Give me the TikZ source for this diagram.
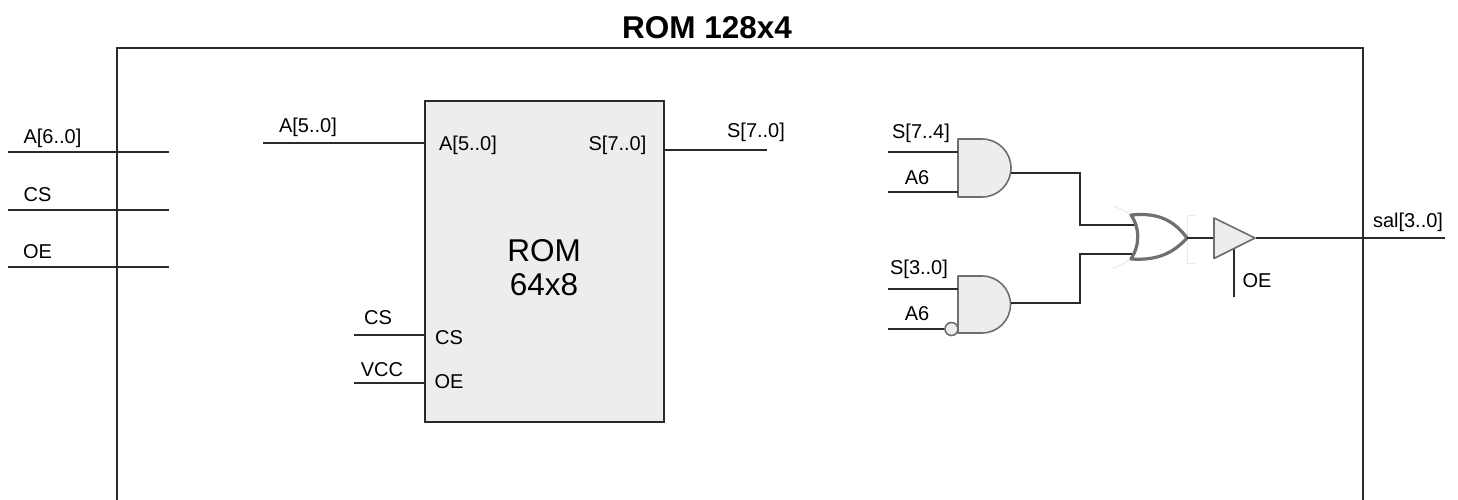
\documentclass[tikz,border=0pt]{standalone}
\usepackage{fontspec}
\setmainfont{Liberation Sans}
\definecolor{gatefill}{HTML}{EDEDED}
\definecolor{wirecol}{HTML}{2A2A2A}
\definecolor{gateline}{HTML}{6E6E6E}
\definecolor{orline}{HTML}{707070}
\definecolor{faintline}{HTML}{EAEAEA}
\tikzset{
  wire/.style={draw=wirecol,line width=1.8pt},
  lab/.style={inner sep=0pt,text=black,font=\fontsize{20}{22}\selectfont},
  biglab/.style={inner sep=0pt,text=black,align=center,font=\fontsize{31.5}{34}\selectfont},
  titlelab/.style={inner sep=0pt,text=black,font=\fontsize{31.5}{33}\selectfont\bfseries},
  gate/.style={draw=gateline,fill=gatefill,line width=1.6pt,line join=round},
  orgate/.style={draw=orline,fill=white,line width=3.2pt,line join=round},
  faint/.style={draw=faintline,line width=1pt}
}
\begin{document}
\begin{tikzpicture}[x=1pt,y=-1pt]
\useasboundingbox[fill=white] (0,0) rectangle (1458,500);

% outer frame (runs off the bottom of the picture)
\coordinate (fbl) at (117,500);
\coordinate (ftl) at (117,48);
\coordinate (ftr) at (1363,48);
\coordinate (fbr) at (1363,500);
\draw[wire] (fbl) -- (ftl) -- (ftr) -- (fbr);
\node[titlelab] (title) at (707,27.5) {ROM 128x4};

% external inputs
\coordinate (ia1) at (8,152);   \coordinate (ia2) at (169,152);
\coordinate (ic1) at (8,210);   \coordinate (ic2) at (169,210);
\coordinate (io1) at (8,267); \coordinate (io2) at (169,267);
\draw[wire] (ia1) -- (ia2);
\draw[wire] (ic1) -- (ic2);
\draw[wire] (io1) -- (io2);
\node[lab] (la) at (52.5,138) {A[6..0]};
\node[lab] (lc) at (37.5,195) {CS};
\node[lab] (lo) at (37.5,251.5) {OE};

% ROM block
\node[draw=wirecol,fill=gatefill,line width=1.8pt,minimum width=239pt,minimum height=321pt,inner sep=0pt,outer sep=0pt] (rom) at (544.5,261.5) {};
\node[biglab] (romt) at (544,267.5) {ROM\\64x8};
\coordinate (ra) at (rom.west |- 0,143);
\coordinate (ra0) at (263,143);
\coordinate (rs) at (rom.east |- 0,150);
\coordinate (rs0) at (767,150);
\coordinate (rc) at (rom.west |- 0,335);
\coordinate (rc0) at (354,335);
\coordinate (rv) at (rom.west |- 0,383);
\coordinate (rv0) at (354,383);
\draw[wire] (ra0) -- (ra);
\draw[wire] (rs) -- (rs0);
\draw[wire] (rc0) -- (rc);
\draw[wire] (rv0) -- (rv);
\node[lab] at (308,127) {A[5..0]};
\node[lab] at (468,145) {A[5..0]};
\node[lab] at (617.5,145) {S[7..0]};
\node[lab] at (756,132.5) {S[7..0]};
\node[lab] at (378,317.5) {CS};
\node[lab] at (382,369.5) {VCC};
\node[lab] at (449,337.5) {CS};
\node[lab] at (449,381.5) {OE};

% AND gates
\draw[gate] (958,139) -- (982,139) arc[start angle=-90,end angle=90,radius=29] -- (958,197) -- cycle;
\draw[gate] (958,276) -- (982,276) arc[start angle=-90,end angle=90,radius=28.5] -- (958,333) -- cycle;
\coordinate (a1i1) at (958,152);  \coordinate (a1i1s) at (888,152);
\coordinate (a1i2) at (958,192);  \coordinate (a1i2s) at (888,192);
\coordinate (a2i1) at (958,289);  \coordinate (a2i1s) at (888,289);
\coordinate (a2i2) at (945,329);  \coordinate (a2i2s) at (888,329);
\coordinate (a1o) at (1011,173);
\coordinate (a2o) at (1011,303);
\draw[wire] (a1i1s) -- (a1i1);
\draw[wire] (a1i2s) -- (a1i2);
\draw[wire] (a2i1s) -- (a2i1);
\draw[wire] (a2i2s) -- (a2i2);
\node[circle,draw=gateline,fill=gatefill,line width=1.6pt,minimum size=13pt,inner sep=0pt] (bub) at (951.5,329) {};
\node[lab] at (921,133) {S[7..4]};
\node[lab] at (917,177.5) {A6};
\node[lab] at (919,269.5) {S[3..0]};
\node[lab] at (917,313.5) {A6};

% faint artefacts round the OR gate
\draw[faint] (1113,206) .. controls (1122,209) and (1127,212) .. (1131,216);
\draw[faint] (1113,268) .. controls (1122,265) and (1127,262) .. (1131,258);
\draw[faint] (1195,215) -- (1187,215) -- (1187,263) -- (1195,263);

% OR gate
\coordinate (oi1) at (1135,225);
\coordinate (oi2) at (1135,254);
\coordinate (oo) at (1187,238);
\coordinate (w1) at (1080,173);
\coordinate (w2) at (1080,225);
\coordinate (w3) at (1080,254);
\coordinate (w4) at (1080,303);
\draw[wire] (a1o) -- (w1) -- (w2) -- (oi1);
\draw[wire] (a2o) -- (w4) -- (w3) -- (oi2);
\draw[orgate] (1131,215) .. controls (1160,212) and (1175,222) .. (1187,238)
  .. controls (1175,251) and (1160,261) .. (1131,259)
  .. controls (1140,245) and (1140,228) .. (1131,215) -- cycle;

% buffer
\coordinate (bi) at (1214,238);
\coordinate (bo) at (1256,238);
\coordinate (be1) at (1234,248);
\coordinate (be2) at (1234,297);
\coordinate (sal) at (1445,238);
\draw[wire] (oo) -- (bi);
\draw[wire] (be1) -- (be2);
\draw[gate] (1214,218) -- (1255,238) -- (1214,258.5) -- cycle;
\draw[wire] (bo) -- (sal);
\node[lab] at (1257,280.5) {OE};
\node[lab] at (1408,222) {sal[3..0]};
\end{tikzpicture}
\end{document}
